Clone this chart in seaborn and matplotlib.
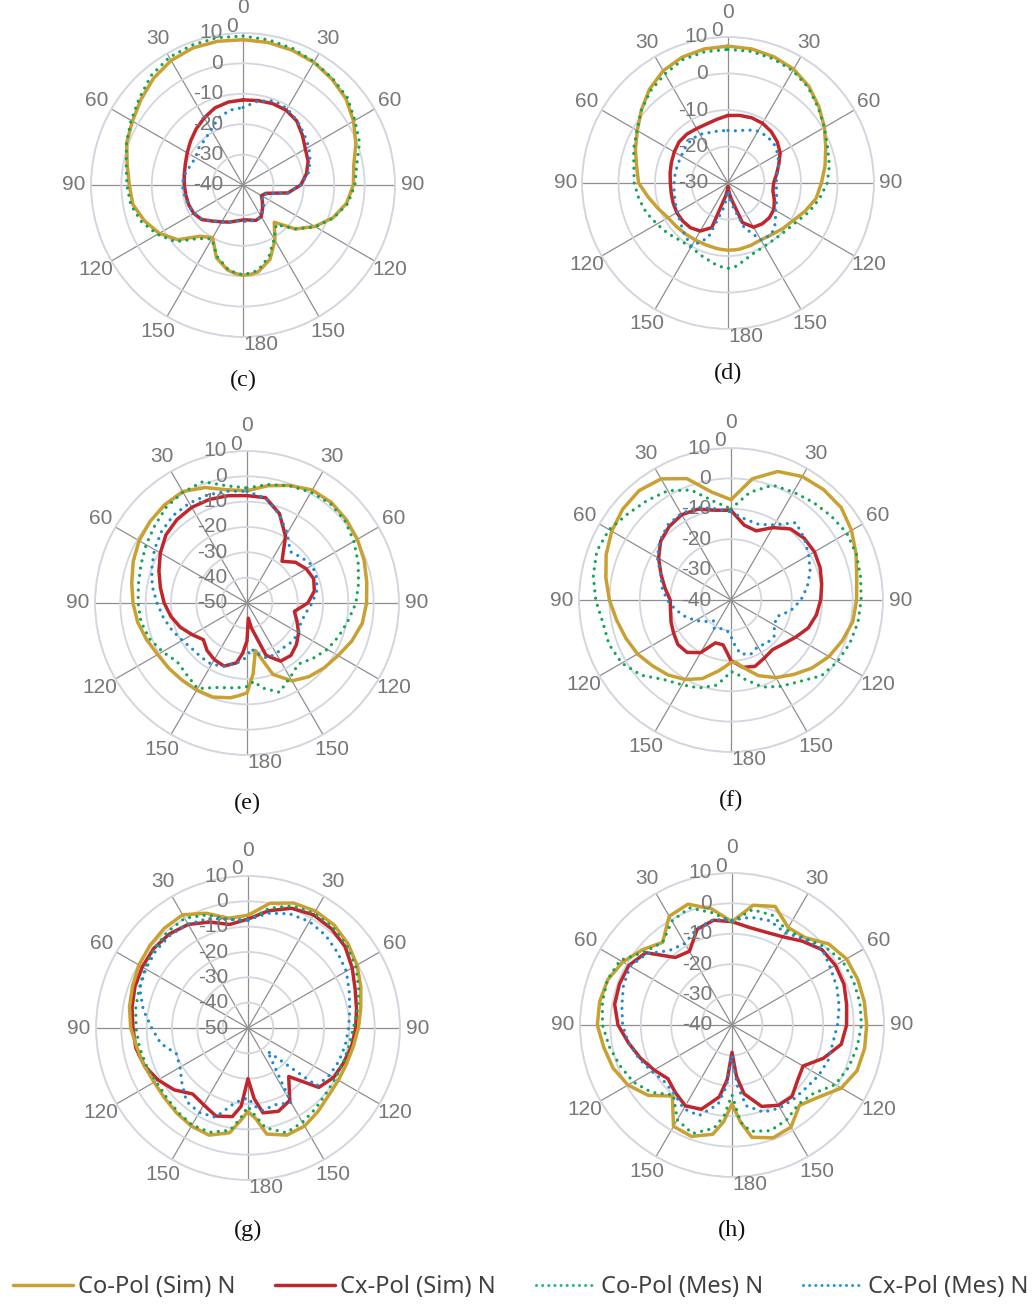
import numpy as np
import matplotlib
matplotlib.use("Agg")
import matplotlib.pyplot as plt
from matplotlib.lines import Line2D
from matplotlib.transforms import offset_copy
import seaborn as sns

# angles (deg, clockwise from top) shared by every curve
ANGLES = [0, 10, 20, 30, 40, 50, 60, 70, 80, 90, 100, 110, 120, 130, 140, 150, 160, 170, 175,
          180, 185, 190, 200, 210, 220, 230, 240, 250, 260, 270, 280, 290, 300, 310, 320, 330, 340, 350]

# (c)
C_CO_SIM = [7.8, 7.6, 7.2, 6.6, 5.5, 4.2, 2.0, -0.5, -3, -3.7, -5.4, -8.5, -12.7, -17.5, -24, -19, -14, -11, -10.5,
            -10.3, -10.8, -11.5, -14.5, -20, -18, -12, -8.2, -5.5, -3.2, -2.6, -1.3, 0.7, 2, 3.8, 5.8, 7.3, 8, 8]
C_CX_SIM = [-12, -11.8, -11.5, -11.6, -12.5, -14.5, -16.3, -17.2, -18.8, -21, -25, -32, -33, -31.7, -30, -28, -27.6, -28.3, -28.5,
            -28.5, -28.3, -28, -27, -26, -24.5, -22.3, -21.3, -21, -20.9, -20.7, -20.4, -19.8, -18.8, -17.5, -16, -14.5, -13, -12.3]
C_CO_MES = [9, 8.5, 7.8, 6.8, 5.8, 4.8, 2.5, 0.8, -2, -3.2, -5, -8.3, -12.5, -17.5, -23, -19.5, -15, -11.5, -11,
            -10.5, -11, -11.8, -15, -19.5, -17, -11, -7.5, -4.5, -2.5, -1.8, -1, 0.8, 2.5, 4.5, 7, 8.5, 9, 9.2]
C_CX_MES = [-14.5, -12, -10.5, -11, -12.3, -13.8, -15, -16.5, -18.2, -21, -25, -31.5, -33, -31, -29.5, -28, -27.5, -28, -28,
            -28, -28, -28, -27, -26, -24.5, -22.5, -21.5, -20.8, -20.5, -20, -20.5, -21.5, -22, -21, -20.5, -19, -16.5, -15]

# (d)
D_CO_SIM = [7.5, 7.3, 6.8, 6, 4.5, 2.5, 0.5, -1.5, -3, -4.4, -5.5, -7.5, -9.4, -10.5, -11.5, -12, -11.8, -11.6, -11.6,
            -11.6, -11.7, -11.8, -12, -12, -11.8, -11.5, -11, -9.6, -7.8, -5.5, -4.6, -3, -1.3, 1, 3.5, 5.5, 6.7, 7.3]
D_CX_SIM = [-11.5, -11.2, -11, -11.1, -11.6, -12.4, -13.5, -15.2, -16.5, -17.5, -17.5, -16.5, -15.5, -15.2, -15.4, -16, -18.5, -26, -28,
            -29, -28, -26.5, -17, -14.8, -14, -13.8, -13.8, -14, -14.2, -14.2, -13.9, -13.5, -13, -12.5, -12.5, -12.8, -12.8, -12.3]
D_CO_MES = [6.6, 6.6, 6.2, 5.5, 4.2, 2.2, 0.5, -1, -1.8, -2.8, -4.6, -6.5, -8.5, -9.5, -10, -10, -9.5, -8, -7,
            -6.6, -7, -7.6, -8.8, -9.7, -9.5, -8.5, -7.5, -6.2, -5.2, -4.3, -3.8, -2.5, -1.2, 1, 3, 4.5, 6, 6.5]
D_CX_MES = [-15.6, -15.5, -14.5, -13.6, -13.3, -13.5, -14.2, -15.2, -16.3, -16.8, -16.5, -15.8, -15, -13, -11.5, -12, -17, -24, -27,
            -28, -26, -23, -14, -10, -11.5, -13, -14, -14.6, -15, -15.2, -15.3, -15.3, -15.2, -14.8, -14.4, -14.6, -15.3, -15.5]

# (e)
E_CO_SIM = [-5.7, -3, -0.6, 1.5, 1.8, 1.2, 0.3, -0.8, -2, -2.8, -3.8, -6, -8.5, -10.2, -12, -14.5, -20, -31, -22,
            -14.5, -13.3, -12, -10.5, -10.3, -10.2, -9.8, -9.3, -7.8, -6.2, -5, -3.8, -2.2, -0.8, 0, 0.6, 0.8, -1.5, -4.6]
E_CX_SIM = [-7.6, -7.8, -12.5, -19.6, -28.5, -25, -23, -22, -23, -26, -31, -29, -26.5, -24.5, -23, -23.5, -28, -40, -44,
            -35, -30, -26, -23.5, -24.2, -25.5, -27.5, -25, -22, -19.5, -17.3, -15.3, -13, -10.5, -8.2, -7, -6.4, -6.5, -7]
E_CO_MES = [-4.6, -2.5, -0.8, 0.5, 1.2, 0.5, -1.3, -3.3, -5.3, -7, -9.5, -11.5, -13.4, -16, -18.5, -16, -12.5, -16, -19,
            -17, -16.5, -16, -14.5, -11, -13, -14, -11.5, -9, -7.5, -7, -6.5, -5.5, -4, -2.5, -0.5, 0.5, 1, -3]
E_CX_MES = [-5.9, -8, -12.8, -18.2, -23.5, -22, -20.2, -20.8, -22, -24.3, -26.5, -27.4, -26.5, -26.5, -27.2, -27, -26.8, -30, -32,
            -29, -27, -26, -23.5, -22, -22, -21.8, -20.5, -18.5, -16.5, -14.5, -12, -10, -7.8, -6, -4.8, -4.5, -4.6, -5.2]

# (f)
F_CO_SIM = [-7, 0.5, 5, 6.9, 7.4, 7.3, 5.8, 3.8, 2, 1.3, 0.7, -1, -2.8, -5.2, -8, -10.5, -13.5, -17.5, -19.3,
            -19.5, -18, -16.3, -12.5, -9.8, -7.8, -6.3, -4.5, -3.2, -1.8, 0, 1.8, 3.7, 5.3, 6.5, 7, 6, 2.5, -4]
F_CX_SIM = [-10.5, -15, -15.8, -12.5, -9.5, -8.5, -8.3, -8.8, -9.7, -10.5, -11.5, -13, -15.5, -17.5, -18.7, -18, -16.8, -17.5, -19,
            -20, -23, -25, -25, -20, -17.5, -17.2, -18.2, -19, -19.8, -20, -18, -15.5, -12.5, -9.8, -8.4, -7.6, -8.2, -10]
F_CO_MES = [-10, -4, 0.2, 1, 2, 3, 4, 3.9, 3.3, 2.8, 2.4, 1.6, 0.5, -1.2, -5, -7.2, -9.5, -13.5, -15.5,
            -16.5, -14, -11.5, -9.2, -7.8, -5.8, -1.5, 1.5, 2.7, 2.8, 4.5, 6, 7, 6.3, 4.2, 2.8, 1.5, -1.5, -7]
F_CX_MES = [-11, -13, -13.5, -11.5, -6.8, -8.5, -10.5, -12.3, -14.5, -17, -20, -24, -23.5, -21.5, -21.5, -22.3, -21, -22, -25,
            -28, -29.5, -29.8, -30, -29, -31, -29, -26.5, -24, -21.5, -19, -17, -15.4, -12, -9.5, -7.7, -7.2, -7.5, -9.5]

# (g)
G_CO_SIM = [-5.5, 0, 2.5, 3.3, 3, 1.6, -0.3, -2.6, -4.8, -6.4, -7.8, -8.6, -8.8, -8.5, -7, -5.3, -5, -7.5, -14,
            -17, -13, -8, -5, -5.3, -6.2, -7, -7.2, -6.4, -5.5, -3.7, -2.5, -1.5, -0.3, 0.6, 1.4, 1.6, -1.8, -6]
G_CX_SIM = [-7, -3, 0.3, 1.6, 1.2, 0, -2.5, -5, -6.5, -7.5, -8.5, -9.8, -11, -13.5, -25, -17, -15, -16, -22,
            -30, -19, -14.5, -13, -15, -16, -12, -9, -6.5, -5, -4.6, -3.5, -2.5, -1.8, -1.3, -1.6, -2.8, -5.5, -8.5]
G_CO_MES = [-7.5, -2, 1.3, 2.3, 2, 0.8, -1, -3.5, -6, -8.4, -9.5, -10, -10.2, -9.8, -8.5, -7, -6, -10, -15,
            -19, -14, -9, -6.2, -5.8, -6.8, -7.8, -8, -7.2, -6.5, -5.8, -5, -4.3, -3, -1.5, -0.5, 0, -2.5, -6.5]
G_CX_MES = [-7.3, -4, -2, -1.5, -2.3, -3.8, -5.2, -7.5, -9.2, -10.3, -11, -11.8, -12.8, -14.5, -38, -16, -17.8, -17, -19,
            -22.4, -21.5, -20, -12.5, -11.5, -12.2, -16, -19, -20, -15, -12, -8, -4.5, -3.4, -2.5, -2.2, -2.7, -4, -6.5]

# (h)
H_CO_SIM = [-6, 0, 1.5, -3, -2.5, 1.5, 3.5, 4, 4.2, 4.3, 4.3, 3.8, 1.5, -3, -5.5, -1.2, -0.5, -2.5, -8,
            -14, -8, -3.5, -1, -1.5, -9.5, -4, -0.5, 1.6, 2.8, 4.3, 4.2, 3.5, 1.5, -1.5, -4.5, 1.3, 2.3, -1.2]
H_CX_SIM = [-6, -7.4, -7.5, -6.5, -4, -1.4, -0.7, -0.8, -1.7, -2.3, -3.5, -8, -13, -11.8, -9.3, -9.5, -11.5, -17, -23,
            -31, -22, -16, -10.5, -9.3, -11, -12.5, -10.4, -8, -5.5, -2.5, -0.8, -0.6, -0.8, -3, -11, -12, -6.5, -5]
H_CO_MES = [-6, -1.5, -1.5, -4, -2.8, 0, 2, 2.5, 2.7, 2.6, 1.8, 0.8, -0.8, -5, -6, -4, -3, -4.5, -8,
            -17, -10, -5.5, -2, -4, -10, -5.5, -2.5, -0.8, 1, 2.6, 3.3, 3.6, 2.5, -2.5, -4.5, -0.5, 1, -2.5]
H_CX_MES = [-5.5, -4, -3.5, -5, -3, -1.2, -2.6, -3.3, -4.2, -5.3, -6.3, -6.3, -7, -8, -8.3, -8.5, -9.5, -13, -20,
            -30, -20, -13.5, -8.3, -8.2, -10.5, -11, -9.5, -7.5, -5.5, -4, -3.2, -2, -1.3, -3.5, -8, -9, -6.2, -4.8]

TICK_TEXT = ["0", "30", "60", "90", "120", "150", "180", "150", "120", "90", "60", "30"]
SERIES = ["Co-Pol (Sim) N", "Cx-Pol (Sim) N", "Co-Pol (Mes) N", "Cx-Pol (Mes) N"]
COLORS = ["#C9A032", "#C0272D", "#10A65A", "#1A8AD4"]

W, H = 1033, 1304
sns.set_style("white")
plt.rcParams["font.family"] = ["Liberation Sans", "DejaVu Sans"]

fig = plt.figure(figsize=(W / 100, H / 100), dpi=100)

# panel: caption, centre x/y (px), radius (px), inner dB, data, caption y
panels = [
    ("(c)", 243, 185, 152, -40, [C_CO_SIM, C_CX_SIM, C_CO_MES, C_CX_MES], 380),
    ("(d)", 728, 183, 146, -30, [D_CO_SIM, D_CX_SIM, D_CO_MES, D_CX_MES], 373),
    ("(e)", 247, 603, 152, -50, [E_CO_SIM, E_CX_SIM, E_CO_MES, E_CX_MES], 803),
    ("(f)", 731, 600, 152, -40, [F_CO_SIM, F_CX_SIM, F_CO_MES, F_CX_MES], 800),
    ("(g)", 248, 1028, 152, -50, [G_CO_SIM, G_CX_SIM, G_CO_MES, G_CX_MES], 1230),
    ("(h)", 732, 1025, 152, -40, [H_CO_SIM, H_CX_SIM, H_CO_MES, H_CX_MES], 1230),
]

grey_txt = "#777777"
fs = 15
theta = np.deg2rad(ANGLES + [360])

for cap, cx, cy, R, rmin, data, capy in panels:
    ax = fig.add_axes([(cx - R) / W, 1 - (cy + R) / H, 2 * R / W, 2 * R / H], projection="polar")
    ax.set_theta_zero_location("N")
    ax.set_theta_direction(-1)

    for i, vals in enumerate(data):
        r = np.clip(np.array(vals + [vals[0]], dtype=float), rmin, None)
        if i < 2:
            sns.lineplot(x=theta, y=r, ax=ax, sort=False, estimator=None, color=COLORS[i],
                         linewidth=2.5, zorder=3 - i * 0.1)
        else:
            sns.lineplot(x=theta, y=r, ax=ax, sort=False, estimator=None, color=COLORS[i],
                         linewidth=2.3, linestyle=(0, (0.01, 2.3)), dash_capstyle="round", zorder=4)

    ax.set_ylim(rmin, 10)
    ax.set_yticks(np.arange(rmin + 10, 11, 10))
    ax.set_yticklabels([])
    ax.set_xticks(np.deg2rad(np.arange(0, 360, 30)))
    ax.set_xticklabels([])
    ax.tick_params(length=0)
    ax.xaxis.grid(True, color="#8e8e8e", linewidth=0.9)
    ax.yaxis.grid(True, color="#d3d6de", linewidth=1.3)
    ax.spines["polar"].set_color("#d3d6de")
    ax.spines["polar"].set_linewidth(1.3)
    ax.set_xlabel("")
    ax.set_ylabel("")

    span = 10 - rmin
    for k, t in enumerate(TICK_TEXT):
        ang = np.deg2rad(30 * k)
        if k == 0:
            ax.text(ang, 10 + 0.165 * span, t, ha="center", va="center", fontsize=fs,
                    color=grey_txt, clip_on=False)
        elif k == 6:
            ax.text(ang, 10 + 0.05 * span, t, ha="left", va="center", fontsize=fs,
                    color=grey_txt, clip_on=False)
        else:
            ax.text(ang, 10 + 0.115 * span, t, ha="center", va="center", fontsize=fs,
                    color=grey_txt, clip_on=False)

    # radial labels just left of the 0 spoke
    lab_tr = offset_copy(ax.transData, fig=fig, x=-20, y=0, units="dots")
    for v in range(rmin, 11, 10):
        ax.text(0, v, str(v), transform=lab_tr, ha="right", va="center",
                fontsize=fs, color=grey_txt, zorder=6, clip_on=False)
    extra_tr = offset_copy(ax.transData, fig=fig, x=-5, y=7, units="dots")
    ax.text(0, 10, "0", transform=extra_tr, ha="right", va="center", fontsize=fs,
            color=grey_txt, clip_on=False)

    fig.text(cx / W, 1 - capy / H, cap, ha="center", va="center", fontsize=17.5,
             family=["Liberation Serif", "DejaVu Serif"], color="#111111")

handles = [
    Line2D([], [], color=COLORS[0], linewidth=2.5),
    Line2D([], [], color=COLORS[1], linewidth=2.5),
    Line2D([], [], color="#1DBB85", linewidth=2.2, linestyle=(0, (0.01, 2.0)), dash_capstyle="round"),
    Line2D([], [], color="#1A9BE0", linewidth=2.2, linestyle=(0, (0.01, 2.0)), dash_capstyle="round"),
]
leg = fig.legend(handles, SERIES, loc="center", bbox_to_anchor=(0.504, 1 - 1287 / H), ncol=4,
                 frameon=False, handlelength=2.55, handletextpad=0.2, columnspacing=1.7,
                 borderpad=0, prop={"family": ["Noto Sans", "DejaVu Sans"], "size": 17})
for txt in leg.get_texts():
    txt.set_color("#404040")

fig.savefig("out.png", dpi=100)
